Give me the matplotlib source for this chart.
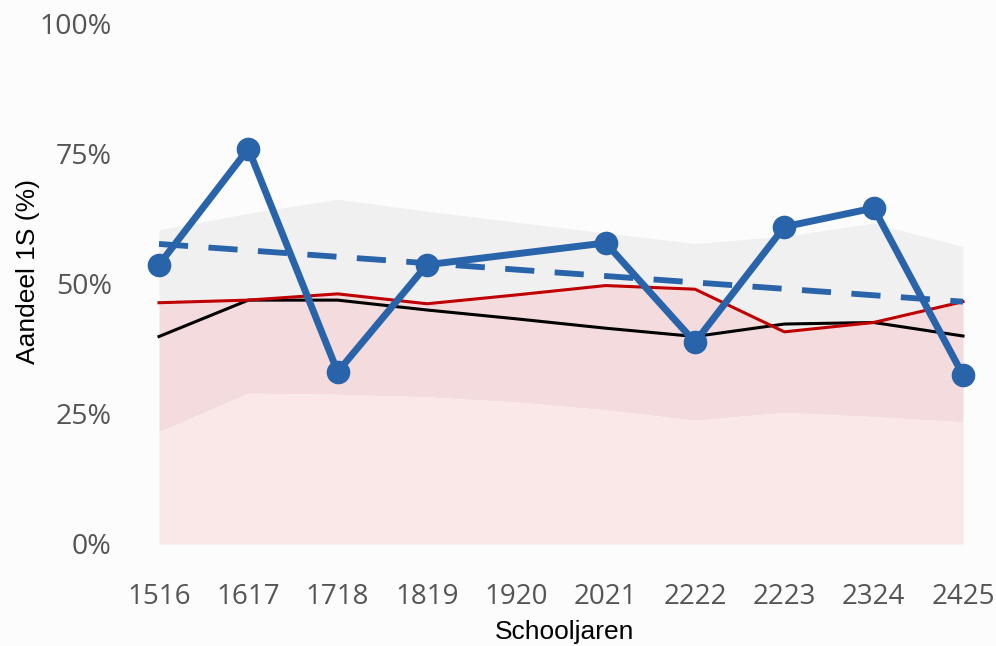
import numpy as np
import matplotlib.pyplot as plt

# school years on the x axis
years = ['1516', '1617', '1718', '1819', '1920', '2021', '2222', '2223', '2324', '2425']

# share 1S (%) for the school (blue, no value for 1920)
share_1s = [53.7, 76.0, 33.1, 53.7, np.nan, 57.9, 38.8, 61.0, 64.6, 32.5]
# dashed trend line, first and last school year
trend_1s = [57.7, 46.6]

# red and black reference lines
red_line = [46.4, 46.9, 48.1, 46.2, 47.9, 49.7, 49.0, 40.8, 42.6, 46.6]
black_line = [39.9, 46.9, 46.9, 45.0, 43.3, 41.5, 39.9, 42.3, 42.6, 40.0]

# background bands
gray_top = [60.4, 63.6, 66.3, 64.0, 61.9, 59.8, 57.8, 59.2, 61.7, 57.2]
low_band = [21.6, 29.0, 28.8, 28.3, 27.3, 25.8, 23.8, 25.3, 24.5, 23.5]

blue = '#2964aa'
x = np.arange(len(years))

fig = plt.figure(figsize=(9.96, 6.46), dpi=100)
fig.patch.set_facecolor('#fcfcfc')
ax = fig.add_axes([159 / 996, 102 / 646, 804 / 996, 520 / 646])
ax.set_facecolor('none')

# bands
ax.fill_between(x, red_line, gray_top, color='#f0f0f0', lw=0)
ax.fill_between(x, low_band, red_line, color='#f4dcde', lw=0)
ax.fill_between(x, 0, low_band, color='#fae7e8', lw=0)

ax.plot(x, black_line, color='black', lw=2.2, clip_on=False)
ax.plot(x, red_line, color='#c00000', lw=2.2, clip_on=False)

ax.plot([x[0], x[-1]], trend_1s, color=blue, lw=4.2, dashes=(5, 3.5), clip_on=False)

# line through the years with data, points on top
mask = ~np.isnan(share_1s)
ax.plot(x[mask], np.array(share_1s)[mask], color=blue, lw=5, marker='o',
        markersize=16, clip_on=False, zorder=5)

ax.set_xlim(0, 9)
ax.set_ylim(0, 100)
ax.set_yticks([0, 25, 50, 75, 100])
ax.set_yticklabels(['0%', '25%', '50%', '75%', '100%'], family='Open Sans',
                   fontsize=20.5, color='#555555')
ax.set_xticks(x)
ax.set_xticklabels(years, family='Open Sans', fontsize=20, color='#555555')
ax.tick_params(axis='y', length=0, pad=34)
ax.tick_params(axis='x', length=0, pad=28)
for s in ax.spines.values():
    s.set_visible(False)

fig.text(28 / 996, 1 - 272 / 646, 'Aandeel 1S (%)', rotation=90, ha='center', va='center',
         family='Liberation Sans', fontsize=19, color='black')
fig.text(565 / 996, 1 - 632 / 646, 'Schooljaren', ha='center', va='center',
         family='Liberation Sans', fontsize=19, color='black')

fig.savefig('out.png', dpi=100, facecolor=fig.get_facecolor())
